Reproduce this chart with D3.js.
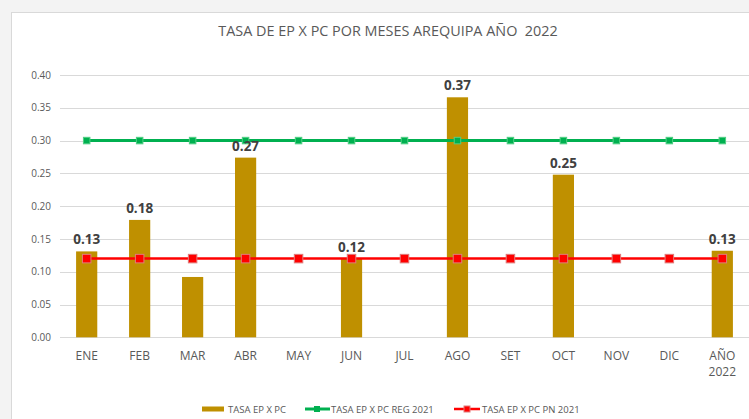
<!DOCTYPE html>
<html>
<head>
<meta charset="utf-8">
<script src="https://cdn.jsdelivr.net/npm/d3@7"></script>
<style>
  html, body { margin: 0; padding: 0; background: #f3f3f3; }
  svg { display: block; font-family: "Open Sans", "Noto Sans", sans-serif; }
  .title { white-space: pre; }
</style>
</head>
<body>
<svg id="chart" width="749" height="419"></svg>
<script>
// Monthly categories (last one is the annual total)
const categories = ["ENE", "FEB", "MAR", "ABR", "MAY", "JUN", "JUL", "AGO", "SET", "OCT", "NOV", "DIC", "AÑO 2022"];
// TASA EP X PC per month (null = no cases)
const tasaValues = [0.131, 0.179, 0.092, 0.274, null, 0.12, null, 0.366, null, 0.248, null, null, 0.132];
// Which bars carry a value label
const showLabel = [true, true, false, true, false, true, false, true, false, true, false, false, true];
// Reference rates
const regValues = [0.30, 0.30, 0.30, 0.30, 0.30, 0.30, 0.30, 0.30, 0.30, 0.30, 0.30, 0.30, 0.30];
const pnValues = [0.12, 0.12, 0.12, 0.12, 0.12, 0.12, 0.12, 0.12, 0.12, 0.12, 0.12, 0.12, 0.12];
const yTicks = [0, 0.05, 0.10, 0.15, 0.20, 0.25, 0.30, 0.35, 0.40];
const seriesNames = ["TASA EP X PC", "TASA EP X PC REG 2021", "TASA EP X PC PN 2021"];
const title = "TASA DE EP X PC POR MESES AREQUIPA AÑO  2022";

const svg = d3.select("#chart");

// white chart panel
svg.append("rect")
  .attr("x", 11.5).attr("y", 12.5)
  .attr("width", 760).attr("height", 420)
  .attr("fill", "#ffffff").attr("stroke", "#d9d9d9").attr("stroke-width", 1);

const x = d3.scaleBand().domain(categories).range([60.2, 748.8])
  .paddingInner(0.6).paddingOuter(0.3);
const y = d3.scaleLinear().domain([0, 0.4]).range([337.3, 75]);

// title
svg.append("text")
  .attr("class", "title")
  .attr("x", 388).attr("y", 35.5)
  .attr("text-anchor", "middle")
  .attr("font-size", 14.4).attr("fill", "#595959")
  .text(title);

// gridlines
svg.append("g").selectAll("line").data(yTicks).join("line")
  .attr("x1", 60).attr("x2", 749)
  .attr("y1", d => Math.round(y(d)) + 0.5).attr("y2", d => Math.round(y(d)) + 0.5)
  .attr("stroke", "#d9d9d9").attr("stroke-width", 1);

// y axis labels
const yAxis = svg.append("g").attr("transform", "translate(60,0)")
  .call(d3.axisLeft(y).tickValues(yTicks).tickFormat(d3.format(".2f")).tickSize(0).tickPadding(9));
yAxis.select(".domain").remove();
yAxis.selectAll("text").attr("font-size", 10).attr("fill", "#595959")
  .attr("font-family", "'Open Sans', sans-serif");

// bars
const barData = categories.map((c, i) => ({ c, v: tasaValues[i], label: showLabel[i] }))
  .filter(d => d.v != null);
svg.append("g").selectAll("rect").data(barData).join("rect")
  .attr("x", d => x(d.c))
  .attr("width", x.bandwidth())
  .attr("y", d => y(d.v))
  .attr("height", d => y(0) - y(d.v))
  .attr("fill", "#bf9000");

// lines with square markers
function drawSeries(values, color, width, markerSize, markerStroke) {
  const pts = categories.map((c, i) => ({ c, v: values[i] }));
  const line = d3.line().x(d => x(d.c) + x.bandwidth() / 2).y(d => y(d.v));
  svg.append("path").datum(pts)
    .attr("d", line).attr("fill", "none")
    .attr("stroke", color).attr("stroke-width", width);
  svg.append("g").selectAll("rect").data(pts).join("rect")
    .attr("x", d => x(d.c) + x.bandwidth() / 2 - markerSize / 2)
    .attr("y", d => y(d.v) - markerSize / 2)
    .attr("width", markerSize).attr("height", markerSize)
    .attr("fill", color)
    .attr("stroke", markerStroke).attr("stroke-width", 1);
}
drawSeries(regValues, "#00b050", 3, 6.5, "#4fcf83");
drawSeries(pnValues, "#ff0000", 2.5, 8.5, "#e07a7a");

// value labels
svg.append("g").selectAll("text").data(barData.filter(d => d.label)).join("text")
  .attr("x", d => x(d.c) + x.bandwidth() / 2)
  .attr("y", d => y(d.v) - 7)
  .attr("text-anchor", "middle")
  .attr("font-size", 13.5).attr("font-weight", "bold").attr("fill", "#404040")
  .text(d => d3.format(".2f")(d.v));

// category labels (split on space for two-line labels)
const xl = svg.append("g").selectAll("text").data(categories).join("text")
  .attr("x", d => x(d) + x.bandwidth() / 2)
  .attr("y", 360)
  .attr("text-anchor", "middle")
  .attr("font-size", 12).attr("fill", "#595959");
xl.each(function (d) {
  const parts = d.split(" ");
  const t = d3.select(this);
  parts.forEach((p, i) => {
    t.append("tspan").attr("x", x(d) + x.bandwidth() / 2)
      .attr("dy", i === 0 ? 0 : 16).text(p);
  });
});

// legend
const leg = svg.append("g").attr("font-size", 9.5).attr("fill", "#595959");
leg.append("rect").attr("x", 202).attr("y", 406.5).attr("width", 22).attr("height", 5).attr("fill", "#bf9000");
leg.append("text").attr("x", 228).attr("y", 412.5).text(seriesNames[0]);

leg.append("line").attr("x1", 305).attr("x2", 330).attr("y1", 409).attr("y2", 409)
  .attr("stroke", "#00b050").attr("stroke-width", 3);
leg.append("rect").attr("x", 314).attr("y", 406).attr("width", 6).attr("height", 6).attr("fill", "#00b050");
leg.append("text").attr("x", 331).attr("y", 412.5).text(seriesNames[1]);

leg.append("line").attr("x1", 454).attr("x2", 480).attr("y1", 409).attr("y2", 409)
  .attr("stroke", "#ff0000").attr("stroke-width", 2.5);
leg.append("rect").attr("x", 464).attr("y", 406).attr("width", 6).attr("height", 6).attr("fill", "#ff0000")
  .attr("stroke", "#e07a7a").attr("stroke-width", 1);
leg.append("text").attr("x", 482).attr("y", 412.5).text(seriesNames[2]);
</script>
</body>
</html>
